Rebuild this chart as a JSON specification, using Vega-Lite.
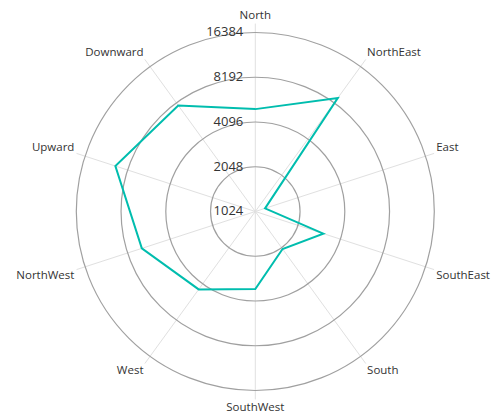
{
  "$schema": "https://vega.github.io/schema/vega-lite/v6.json",
  "width": 500,
  "height": 420,
  "autosize": {"type": "none"},
  "padding": 0,
  "background": "white",
  "config": {"view": {"stroke": null}, "font": "Open Sans"},
  "datasets": {
    "dirs": [
      {"dir": "North", "idx": 0, "value": 5000},
      {"dir": "NorthEast", "idx": 1, "value": 9000},
      {"dir": "East", "idx": 2, "value": 1200},
      {"dir": "SouthEast", "idx": 3, "value": 3100},
      {"dir": "South", "idx": 4, "value": 2100},
      {"dir": "SouthWest", "idx": 5, "value": 3400},
      {"dir": "West", "idx": 6, "value": 4550},
      {"dir": "NorthWest", "idx": 7, "value": 6500},
      {"dir": "Upward", "idx": 8, "value": 10000},
      {"dir": "Downward", "idx": 9, "value": 7800}
    ],
    "rings": [
      {"v": 1024},
      {"v": 2048},
      {"v": 4096},
      {"v": 8192},
      {"v": 16384}
    ]
  },
  "layer": [
    {
      "data": {"name": "dirs"},
      "transform": [
        {"calculate": "datum.idx * PI / 5", "as": "ang"},
        {"calculate": "0", "as": "ox"},
        {"calculate": "4.2 * sin(datum.ang)", "as": "sx"},
        {"calculate": "4.2 * cos(datum.ang)", "as": "sy"}
      ],
      "mark": {"type": "rule", "stroke": "#e0e0e0", "strokeWidth": 1},
      "encoding": {
        "x": {"field": "ox", "type": "quantitative", "scale": {"domain": [-5.705, 5.468], "nice": false, "zero": false}, "axis": null},
        "y": {"field": "ox", "type": "quantitative", "scale": {"domain": [-4.659, 4.726], "nice": false, "zero": false}, "axis": null},
        "x2": {"field": "sx"},
        "y2": {"field": "sy"}
      }
    },
    {
      "data": {"name": "rings"},
      "transform": [
        {"calculate": "log(datum.v) / LN2 - 10", "as": "rl"},
        {"calculate": "0", "as": "ox"},
        {"filter": "datum.rl > 0"}
      ],
      "mark": {"type": "point", "shape": "circle", "filled": false, "stroke": "#a0a0a0", "strokeWidth": 1.2, "opacity": 1},
      "encoding": {
        "x": {"field": "ox", "type": "quantitative"},
        "y": {"field": "ox", "type": "quantitative"},
        "size": {"field": "rl", "type": "quantitative", "scale": {"type": "pow", "exponent": 2, "domain": [0, 4], "range": [0, 128164], "zero": true}, "legend": null}
      }
    },
    {
      "data": {"name": "dirs"},
      "transform": [
        {"calculate": "datum.idx * PI / 5", "as": "ang"},
        {"calculate": "log(datum.value) / LN2 - 10", "as": "rl"},
        {"calculate": "datum.rl * sin(datum.ang)", "as": "px"},
        {"calculate": "datum.rl * cos(datum.ang)", "as": "py"}
      ],
      "mark": {"type": "line", "interpolate": "linear-closed", "stroke": "#00bdae", "strokeWidth": 2},
      "encoding": {
        "x": {"field": "px", "type": "quantitative"},
        "y": {"field": "py", "type": "quantitative"},
        "order": {"field": "idx", "type": "quantitative"}
      }
    },
    {
      "data": {"name": "rings"},
      "transform": [
        {"calculate": "log(datum.v) / LN2 - 10", "as": "rl"},
        {"calculate": "0", "as": "ox"}
      ],
      "mark": {"type": "text", "align": "right", "baseline": "middle", "dx": -12, "fontSize": 13, "fill": "#333333"},
      "encoding": {
        "x": {"field": "ox", "type": "quantitative"},
        "y": {"field": "rl", "type": "quantitative"},
        "text": {"field": "v", "type": "nominal"}
      }
    },
    {
      "data": {"name": "dirs"},
      "transform": [
        {"calculate": "datum.idx * PI / 5", "as": "ang"},
        {"calculate": "4.25 * sin(datum.ang)", "as": "lx"},
        {"calculate": "4.25 * cos(datum.ang)", "as": "ly"}
      ],
      "mark": {
        "type": "text",
        "fontSize": 11.5,
        "fill": "#333333",
        "align": {"expr": "datum.lx > 0.05 ? 'left' : (datum.lx < -0.05 ? 'right' : 'center')"},
        "baseline": {"expr": "datum.ly > 0 ? 'bottom' : 'top'"}
      },
      "encoding": {
        "x": {"field": "lx", "type": "quantitative"},
        "y": {"field": "ly", "type": "quantitative"},
        "text": {"field": "dir", "type": "nominal"}
      }
    }
  ]
}
